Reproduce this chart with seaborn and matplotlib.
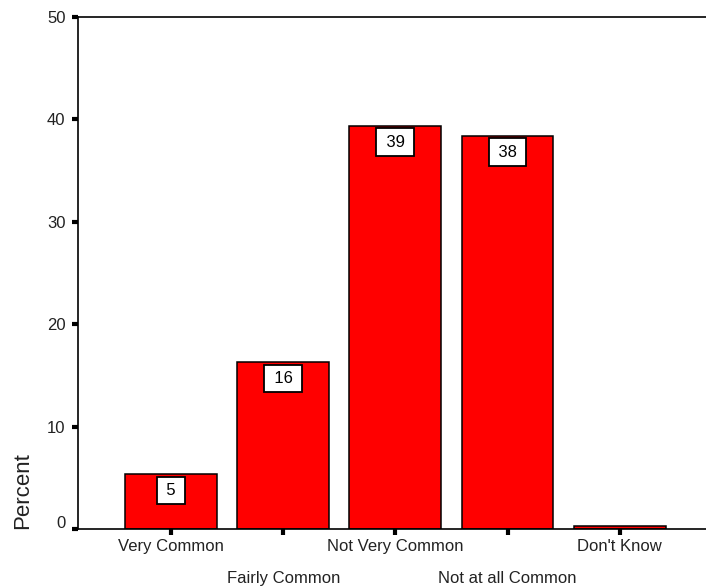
import matplotlib
matplotlib.use("Agg")
import matplotlib.pyplot as plt
import matplotlib.transforms as mtransforms
import seaborn as sns
import pandas as pd

categories = ["Very Common", "Fairly Common", "Not Very Common",
              "Not at all Common", "Don't Know"]
percent = [5.37, 16.3, 39.4, 38.4, 0.26]
yticks = [0, 10, 20, 30, 40, 50]

sns.set_theme(style="white")
plt.rcParams["font.family"] = ["Liberation Sans", "DejaVu Sans"]

df = pd.DataFrame({"category": categories, "percent": percent})

fig = plt.figure(figsize=(7.06, 5.86), dpi=100)
ax = fig.add_axes([78 / 706, 1 - 529 / 586, 628 / 706, 512 / 586])

sns.barplot(data=df, x="category", y="percent", order=categories,
            color="#ff0000", saturation=1, edgecolor="black",
            linewidth=1.1, width=0.82, ax=ax)

ax.set_xlim(-0.83, 4.77)
ax.set_ylim(0, 50)
ax.set_yticks(yticks)
ax.set_yticklabels([str(t) for t in yticks], fontsize=12)

# staggered category labels: even positions on the first row, odd on the second
ax.set_xticks([0, 2, 4])
ax.set_xticklabels([categories[i] for i in (0, 2, 4)], fontsize=12)
ax.set_xticks([1, 3], minor=True)
ax.set_xticklabels([categories[i] for i in (1, 3)], minor=True, fontsize=12)

ax.tick_params(axis="x", which="both", direction="out", length=4, width=3,
               color="black", bottom=True, labelcolor="#222222")
ax.tick_params(axis="x", which="major", pad=3)
ax.tick_params(axis="x", which="minor", pad=26)
ax.tick_params(axis="y", direction="out", length=4, width=3, color="black",
               left=True, pad=5, labelcolor="#222222")

# lift the zero label slightly off the baseline
zero_label = ax.get_yticklabels()[0]
zero_label.set_transform(zero_label.get_transform() +
                         mtransforms.ScaledTranslation(0, 7 / 100, fig.dpi_scale_trans))

for side in ("left", "bottom", "top"):
    ax.spines[side].set_visible(True)
    ax.spines[side].set_color("black")
    ax.spines[side].set_linewidth(1.2)
ax.spines["right"].set_visible(False)

ax.set_xlabel("")
ax.set_ylabel("Percent", fontsize=16, loc="bottom", labelpad=10, color="#222222")

# value boxes near the top of each bar
for i, v in enumerate(percent):
    if v < 1:
        continue
    ax.annotate(f"\u2009{round(v)}\u2009", xy=(i, v), xytext=(0, -16.5),
                textcoords="offset pixels", ha="center", va="center",
                fontsize=12, color="black",
                bbox=dict(boxstyle="square,pad=0.38", fc="white",
                          ec="black", lw=1.3))

fig.savefig("out.png", dpi=100)
